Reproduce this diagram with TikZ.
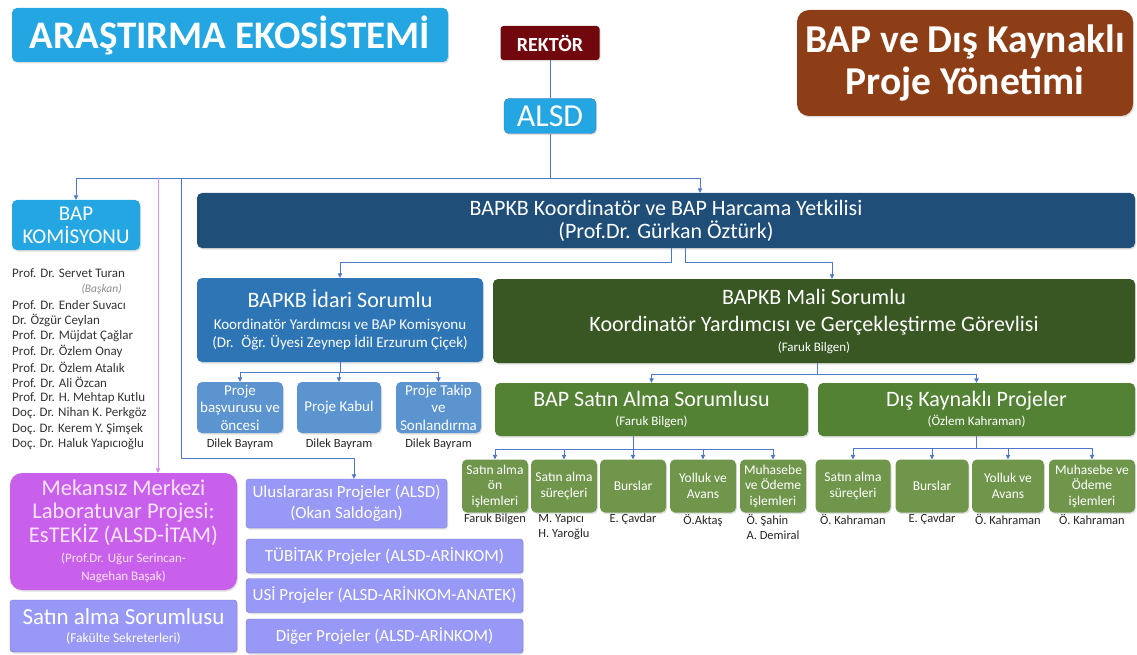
\documentclass[tikz,border=0pt]{standalone}
\usepackage{fontspec}
\setmainfont{Carlito}
\usetikzlibrary{arrows.meta, shadows, positioning}

\definecolor{skyblue}{RGB}{36,166,226}
\definecolor{rektorred}{RGB}{112,8,14}
\definecolor{rust}{RGB}{142,62,22}
\definecolor{navy}{RGB}{31,78,121}
\definecolor{midblue}{RGB}{46,117,182}
\definecolor{paleblue}{RGB}{91,148,206}
\definecolor{darkgreen}{RGB}{56,87,35}
\definecolor{midgreen}{RGB}{84,130,53}
\definecolor{palegreen}{RGB}{112,150,76}
\definecolor{labviolet}{RGB}{200,96,236}
\definecolor{labtext}{RGB}{252,228,255}
\definecolor{lilac}{RGB}{152,152,246}
\definecolor{lilacedge}{RGB}{120,120,210}
\definecolor{linkblue}{RGB}{80,120,200}
\definecolor{linkpink}{RGB}{214,140,240}

\newcommand{\fsz}[2]{\fontsize{#1}{#2}\selectfont}

\tikzset{
  box/.style={rounded corners=5pt, text=white, align=center, inner sep=0pt,
    drop shadow={opacity=0.25, shadow xshift=1pt, shadow yshift=-1.5pt}},
  member/.style={anchor=west, inner sep=0pt, text=black!80, font=\fsz{13}{15}},
  tag/.style={inner sep=0pt, align=left, text=black!85, font=\fsz{12.5}{15}},
  link/.style={draw=linkblue, line width=0.8pt},
  feed/.style={link, -{Triangle[length=4.5pt,width=4.5pt]}}
}

\begin{document}
\begin{tikzpicture}[x=1pt, y=-1pt]
  \useasboundingbox (0,0) rectangle (1137,655);

  % Header
  \node[box, fill=skyblue, minimum width=436, minimum height=54,
    font=\bfseries\fsz{39}{40}] (title) at (230,35) {ARAŞTIRMA EKOSİSTEMİ};
  \node[box, fill=rektorred, rounded corners=3pt, minimum width=99, minimum height=34,
    font=\bfseries\fsz{20}{22}] (rektor) at (550,43) {REKTÖR};
  \node[box, fill=rust, rounded corners=12pt, minimum width=336, minimum height=106,
    font=\bfseries\fsz{39.5}{42}] (brand) at (965,63) {BAP ve Dış Kaynaklı\\Proje Yönetimi};
  \node[box, fill=skyblue, draw=midblue, minimum width=92, minimum height=35,
    font=\fsz{32}{34}] (alsd) at (550,116) {ALSD};

  % Coordinator level
  \node[box, fill=navy, minimum width=938, minimum height=55,
    font=\fsz{22}{23}] (koord) at (666,220.5)
    {BAPKB Koordinatör ve BAP Harcama Yetkilisi\\(Prof.Dr. Gürkan Öztürk)};
  \node[box, fill=skyblue, minimum width=128, minimum height=50,
    font=\fsz{21}{23}] (bapkom) at (76,225) {BAP\\KOMİSYONU};

  % Commission members
  \node[member] (chair) at (12,273) {Prof. Dr. Servet Turan};
  \node[anchor=east, inner sep=0pt, text=black!45, font=\itshape\fsz{11.5}{13}] (chairrole)
    at (122,289) {(Başkan)};
  \foreach \who [count=\i] in {Prof. Dr. Ender Suvacı, Dr. Özgür Ceylan,
      Prof. Dr. Müjdat Çağlar, Prof. Dr. Özlem Onay, Prof. Dr. Özlem Atalık,
      Prof. Dr. Ali Özcan, Prof. Dr. H. Mehtap Kutlu, Doç. Dr. Nihan K. Perkgöz,
      Doç. Dr. Kerem Y. Şimşek, Doç. Dr. Haluk Yapıcıoğlu}
    \node[member] (m\i) at (12,{305+15.5*(\i-1)}) {\who};

  % Administrative branch
  \node[box, fill=midblue, minimum width=286, minimum height=84,
    font=\fsz{15}{18}] (idari) at (340,320)
    {\fsz{22}{18}BAPKB İdari Sorumlu\\[4pt]\fsz{15}{18}Koordinatör Yardımcısı ve BAP Komisyonu\\
     \fsz{15}{18}(Dr.~ Öğr. Üyesi Zeynep İdil Erzurum Çiçek)};
  \foreach \txt/\xc/\w [count=\i] in {Proje\\başvurusu ve\\öncesi/240/86,
      Proje Kabul/339/84, Proje Takip\\ve\\Sonlandırma/438.5/85} {
    \node[box, fill=paleblue, minimum width=\w, minimum height=51,
      font=\fsz{15}{17.5}] (p\i) at (\xc,407.5) {\txt};
    \node[tag] (pn\i) at (\xc,444) {Dilek Bayram};
  }

  % Financial branch
  \node[box, fill=darkgreen, minimum width=642, minimum height=84,
    font=\fsz{13}{27}] (mali) at (814,321)
    {\fsz{22}{27}BAPKB Mali Sorumlu\\\fsz{22}{27}Koordinatör Yardımcısı ve Gerçekleştirme Görevlisi\\[-7pt]
     \fsz{13}{27}(Faruk Bilgen)};
  \node[box, fill=midgreen, minimum width=313, minimum height=53,
    font=\fsz{13}{18.5}] (satin) at (651.5,409.5)
    {\fsz{22}{18}BAP Satın Alma Sorumlusu\\\fsz{13}{18}(Faruk Bilgen)};
  \node[box, fill=midgreen, minimum width=317, minimum height=53,
    font=\fsz{13}{18.5}] (dis) at (976.5,409.5)
    {\fsz{22}{18}Dış Kaynaklı Projeler\\\fsz{13}{18}(Özlem Kahraman)};

  \foreach \txt/\xc/\who [count=\i] in {Satın alma\\ön\\işlemleri/495/Faruk Bilgen,
      Satın alma\\süreçleri/564/M. Yapıcı\\H. Yaroğlu, Burslar/633/E. Çavdar,
      Yolluk ve\\Avans/703/Ö.Aktaş, Muhasebe\\ve Ödeme\\işlemleri/773/Ö. Şahin\\A. Demiral} {
    \node[box, fill=palegreen, minimum width=66, minimum height=53,
      font=\fsz{13.5}{15.5}] (s\i) at (\xc,486) {\txt};
    \node[tag, anchor=north] (sn\i) at (\xc,514) {\who};
  }
  \foreach \txt/\xc/\w/\who [count=\i] in {Satın alma\\süreçleri/853/75/Ö. Kahraman,
      Burslar/932/73/E. Çavdar, Yolluk ve\\Avans/1008/72/Ö. Kahraman,
      Muhasebe ve\\Ödeme\\işlemleri/1092/86/Ö. Kahraman} {
    \node[box, fill=palegreen, minimum width=\w, minimum height=53,
      font=\fsz{13.5}{15.5}] (d\i) at (\xc,486) {\txt};
    \node[tag, anchor=north] (dn\i) at (\xc,514) {\who};
  }

  % Laboratory and projects
  \node[box, fill=labviolet, text=labtext, rounded corners=12pt, minimum width=227,
    minimum height=117, font=\fsz{13}{23.5}] (mekan) at (123.5,531.5)
    {\fsz{22.5}{23.5}Mekansız Merkezi\\\fsz{22.5}{23.5}Laboratuvar Projesi:\\
     \fsz{22.5}{23.5}EsTEKİZ (ALSD-İTAM)\\[-3pt]\fsz{13}{20}(Prof.Dr. Uğur Serincan-\\[-5.5pt]
     \fsz{13}{17}Nagehan Başak)};
  \node[box, fill=lilac, draw=lilacedge, rounded corners=3pt, minimum width=227,
    minimum height=52, font=\fsz{13.5}{18}] (satsor) at (123.5,626)
    {\fsz{23}{18}Satın alma Sorumlusu\\\fsz{13.5}{18}(Fakülte Sekreterleri)};
  \node[box, fill=lilac, draw=lilacedge, rounded corners=3pt, minimum width=201,
    minimum height=49, font=\fsz{17}{21}] (ulus) at (346.5,503.5)
    {Uluslararası Projeler (ALSD)\\(Okan Saldoğan)};
  \foreach \txt/\yc [count=\i] in {TÜBİTAK Projeler (ALSD-ARİNKOM)/556,
      USİ Projeler (ALSD-ARİNKOM-ANATEK)/595.5, Diğer Projeler (ALSD-ARİNKOM)/636}
    \node[box, fill=lilac, draw=lilacedge, rounded corners=3pt, minimum width=277,
      minimum height=34, font=\fsz{17}{20}] (proj\i) at (384.5,\yc) {\txt};

  % Connectors
  \coordinate (bus) at (550,178);
  \draw[link] (rektor) -- (alsd);
  \draw[link] (alsd) -- (bus);
  \draw[feed] (bus) -| (bapkom);
  \draw[feed] (bus) -| (koord.north -| 700,0);
  \draw[feed, draw=linkpink] (bus -| 158,0) -- (mekan.north -| 158,0);
  \coordinate (ulusbend) at (354,458);
  \draw[feed] (bus -| 181,0) |- (ulusbend) -- (ulus.north -| ulusbend);

  \draw[feed] (koord.south -| 671,0) -- ++(0,14) -| (idari);
  \draw[feed] (koord.south -| 685,0) -- ++(0,14) -| (mali.north -| 832,0);

  \coordinate (ibus) at (340,372);
  \draw[link] (idari) -- (ibus);
  \foreach \i in {1,2,3}
    \draw[feed] (ibus) -| (p\i);

  \coordinate (mbus) at (817,374);
  \draw[link] (mali.south -| mbus) -- (mbus);
  \draw[feed] (mbus) -| (satin);
  \draw[feed] (mbus) -| (dis);

  \coordinate (sbus) at (633,449);
  \draw[link] (satin.south -| sbus) -- (sbus);
  \foreach \i in {1,...,5}
    \draw[feed] (sbus) -| (s\i);

  \coordinate (dbus) at (976.5,448);
  \draw[link] (dis) -- (dbus);
  \foreach \i in {1,...,4}
    \draw[feed] (dbus) -| (d\i);
\end{tikzpicture}
\end{document}
